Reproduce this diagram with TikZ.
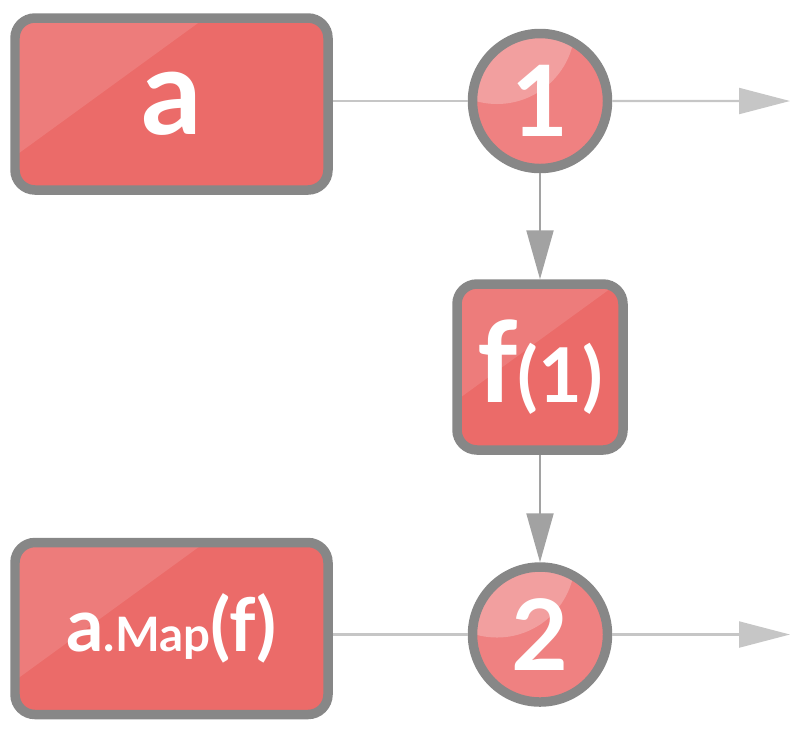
\documentclass[tikz,border=0pt]{standalone}
\usepackage{fontspec}
\setmainfont{Lato}
\usetikzlibrary{arrows.meta,positioning,calc}

\definecolor{boxred}{HTML}{EB6B69}
\definecolor{dotred}{HTML}{EF8181}
\definecolor{rimgray}{HTML}{878787}
\definecolor{flowgray}{HTML}{C6C6C6}
\definecolor{feedgray}{HTML}{A2A2A2}

\begin{document}
\begin{tikzpicture}[
  gloss/.style={path picture={\fill[white, opacity=0.12, sharp corners] ($(path picture bounding box.south west)+(0,#1)$) -- ++(36:6) |- (path picture bounding box.north west) -- cycle;}},
  gloss/.default=0.34,
  box/.style={draw=rimgray, line width=2.7pt, outer sep=1.35pt, fill=boxred, rounded corners=0.2cm, minimum width=3.13cm, minimum height=1.72cm, inner sep=0pt, text=white, gloss},
  bubble/.style={circle, draw=rimgray, line width=2.7pt, outer sep=1.35pt, fill=dotred, minimum size=1.35cm, inner sep=0pt, text=white, font=\bfseries\fontsize{28}{32}\selectfont,
    path picture={\fill[white, opacity=0.24] ($(path picture bounding box.center)+(-0.43,0.75)$) circle (0.78);}},
  flow/.style={draw=flowgray, line width=0.6pt},
  arrow/.style={flow, -{Triangle[length=0.51cm, width=0.26cm]}},
  feed/.style={draw=feedgray, line width=0.6pt, -{Triangle[length=0.49cm, width=0.27cm]}}
]
\useasboundingbox (0,0) rectangle (8,-7.38);

\node[box, font=\bfseries\fontsize{34}{40}\selectfont] (a) at (1.715, -1.04) {a};
\node[bubble, yshift=0.02cm] (c1) at (5.40, -1.03) {1};
\coordinate (end1) at (7.9, -1.01);

\node[box, minimum width=1.66cm, minimum height=1.66cm, gloss=0.5] (fbox) at (5.40, -3.67)
  {\bfseries\fontsize{32}{36}\selectfont f\fontsize{21.5}{24}\selectfont(1)};

\node[box] (map) at (1.715, -6.285)
  {\bfseries\fontsize{21}{24}\selectfont a\fontsize{13.5}{16}\selectfont.Map\fontsize{21}{24}\selectfont(f)};
\node[bubble] (c2) at (5.40, -6.345) {2};
\coordinate (end2) at (7.9, -6.345);

\draw[flow] (a.east |- c1) -- (c1);
\draw[arrow] (c1) -- (end1);
\draw[feed] (c1) -- (fbox);
\draw[feed] (fbox) -- (c2);
\draw[flow] (map.east |- c2) -- (c2);
\draw[arrow] (c2) -- (end2);

\end{tikzpicture}
\end{document}
